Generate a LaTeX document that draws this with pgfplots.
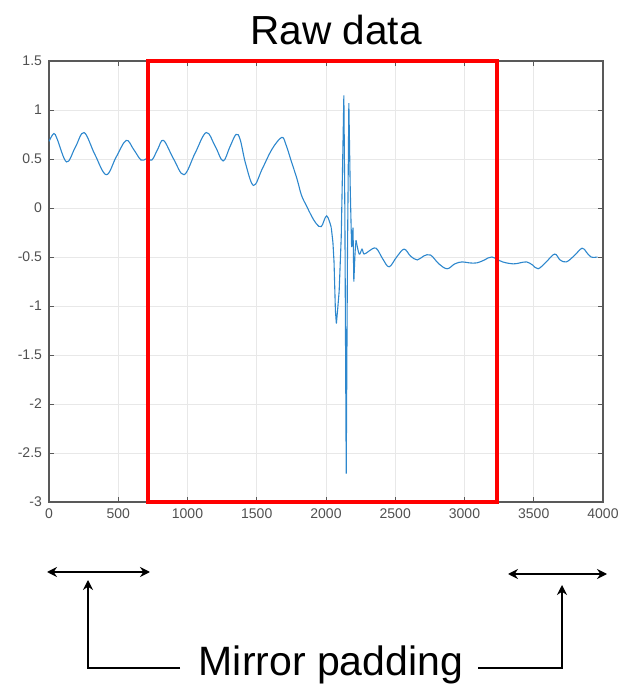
\documentclass[border=0pt]{standalone}
\usepackage{pgfplots}
\pgfplotsset{compat=1.18}
\usepackage{fontspec}
\setmainfont{Liberation Sans}
\usetikzlibrary{arrows.meta}

\definecolor{sig}{RGB}{45,135,205}
\definecolor{ticktext}{RGB}{80,80,80}

\begin{document}
\begin{tikzpicture}[x=1pt,y=1pt]
    % page frame, 624x697 px at 0.5pt per px
    \path (0,0) rectangle (312,348.5);

    \node[font=\fontsize{20.3}{22}\selectfont] at (168,333.5) {Raw data};

    \begin{axis}[
        at={(24.5pt,97.5pt)}, anchor=south west,
        scale only axis,
        width=277pt, height=220.5pt,
        xmin=0, xmax=4000, ymin=-3, ymax=1.5,
        xtick={0,500,...,4000},
        ytick={-3,-2.5,...,1.5},
        scaled ticks=false,
        /pgf/number format/1000 sep={},
        /pgf/number format/assume math mode=true,
        tick align=inside,
        major tick length=2.5pt,
        grid=major,
        grid style={gray!18, line width=0.4pt},
        axis line style={gray!70!black, line width=0.6pt},
        every tick/.style={gray!70!black},
        tick label style={font=\fontsize{7}{8}\selectfont, text=ticktext},
        clip=false,
    ]
        % slow oscillation before the event
        \addplot[sig, line width=0.55pt, smooth, tension=0.6] coordinates {
            (0,0.68) (35,0.76) (60,0.70) (127,0.47) (190,0.62) (253,0.77)
            (330,0.55) (413,0.34) (485,0.52) (557,0.69) (610,0.60) (664,0.49)
            (700,0.50) (743,0.49) (785,0.60) (827,0.69) (900,0.50) (975,0.34)
            (1055,0.56) (1135,0.77) (1200,0.63) (1257,0.48) (1305,0.62) (1350,0.75)
            (1380,0.70) (1420,0.45) (1477,0.23) (1540,0.40) (1610,0.60) (1680,0.72)
            (1710,0.65) (1751,0.47) (1790,0.30) (1823,0.13) (1860,0.02) (1895,-0.08)
            (1930,-0.16) (1966,-0.19) (2005,-0.08) (2038,-0.20)
        };
        % burst
        \addplot[sig, line width=0.55pt] coordinates {
            (2038,-0.20) (2050,-0.35) (2058,-0.55) (2068,-1.05) (2075,-1.18)
            (2085,-1.02) (2095,-0.85) (2110,-0.30) (2122,0.60) (2129,1.15)
            (2136,0.00) (2146,-2.71) (2155,-0.50) (2165,1.07) (2175,0.20)
            (2185,-0.40) (2195,-0.20) (2201,-0.75) (2210,-0.45) (2217,-0.33)
        };
        % settling after the event
        \addplot[sig, line width=0.55pt, smooth, tension=0.6] coordinates {
            (2217,-0.33) (2240,-0.47) (2260,-0.42) (2275,-0.47) (2310,-0.44)
            (2361,-0.41) (2410,-0.52) (2456,-0.60) (2510,-0.50) (2564,-0.42) (2610,-0.49)
            (2659,-0.53) (2705,-0.49) (2755,-0.48) (2815,-0.57) (2875,-0.62) (2930,-0.57)
            (2982,-0.55) (3035,-0.56) (3090,-0.56) (3145,-0.53) (3197,-0.50) (3275,-0.55)
            (3353,-0.57) (3400,-0.56) (3448,-0.55) (3490,-0.58) (3532,-0.62) (3590,-0.55)
            (3651,-0.47) (3690,-0.53) (3735,-0.55) (3790,-0.49) (3849,-0.41) (3880,-0.45)
            (3914,-0.50) (3960,-0.50)
        };
        % window of interest
        \draw[red, line width=2pt] (axis cs:715,-3) rectangle (axis cs:3235,1.5);
    \end{axis}

    % padding arrows and callout
    \draw[{Stealth[length=5pt,width=5pt]}-{Stealth[length=5pt,width=5pt]}, line width=0.8pt]
        (23.5,62.5) -- (75,62.5);
    \draw[{Stealth[length=5pt,width=5pt]}-{Stealth[length=5pt,width=5pt]}, line width=0.7pt]
        (254,61.5) -- (303.5,61.5);
    \draw[-{Stealth[length=5pt,width=5pt]}, line width=0.6pt]
        (90,14.5) -- (44,14.5) -- (44,58.5);
    \draw[-{Stealth[length=5pt,width=5pt]}, line width=0.6pt]
        (239,14.5) -- (281,14.5) -- (281,56);
    \node[font=\fontsize{20.5}{22}\selectfont] at (165.5,16) {Mirror padding};
\end{tikzpicture}
\end{document}
